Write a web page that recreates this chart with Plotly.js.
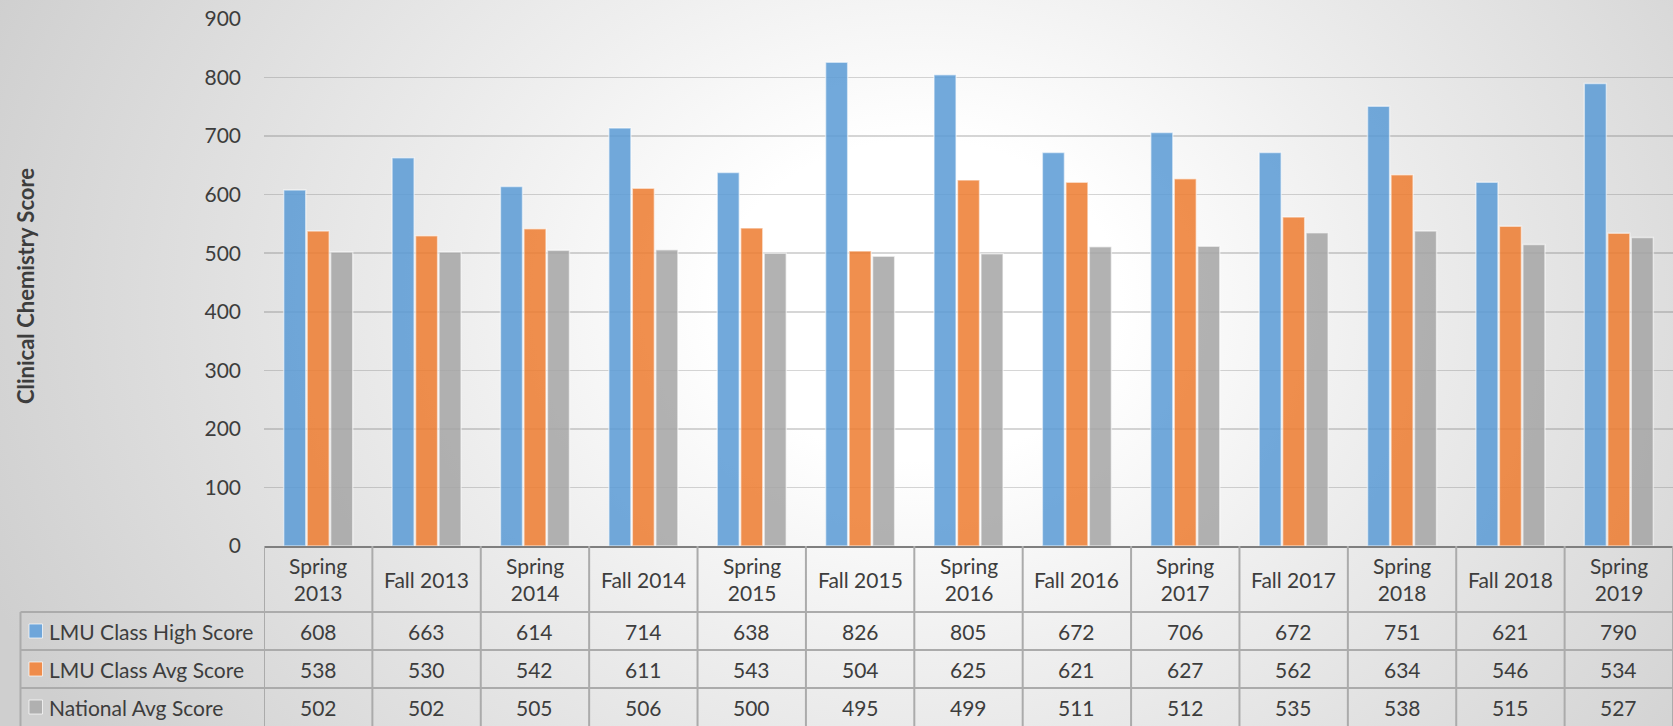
<!DOCTYPE html>
<html>
<head>
<meta charset="utf-8">
<script src="https://cdn.plot.ly/plotly-3.0.1.min.js"></script>
<style>
  html, body { margin: 0; padding: 0; }
  body { width: 1673px; height: 726px; overflow: hidden;
    background: radial-gradient(ellipse 1000px 800px at 920px 300px, #ffffff 0%, #ffffff 20%, #efefef 45%, #cfcfcf 100%); }
  #chart { width: 1673px; height: 726px; }
</style>
</head>
<body>
<div id="chart"></div>
<script>
// ---- data ----
const categories = ["Spring 2013","Fall 2013","Spring 2014","Fall 2014","Spring 2015","Fall 2015","Spring 2016","Fall 2016","Spring 2017","Fall 2017","Spring 2018","Fall 2018","Spring 2019"];
const headerLabels = ["Spring<br>2013","Fall 2013","Spring<br>2014","Fall 2014","Spring<br>2015","Fall 2015","Spring<br>2016","Fall 2016","Spring<br>2017","Fall 2017","Spring<br>2018","Fall 2018","Spring<br>2019"];
const seriesNames = ["LMU Class High Score","LMU Class Avg Score","National Avg Score"];
const highScore   = [608,663,614,714,638,826,805,672,706,672,751,621,790];
const classAvg    = [538,530,542,611,543,504,625,621,627,562,634,546,534];
const nationalAvg = [502,502,505,506,500,495,499,511,512,535,538,515,527];
const yTickVals = [0,100,200,300,400,500,600,700,800,900];
const yTitle = "Clinical Chemistry Score";

// ---- styling / geometry ----
const seriesValues = [highScore, classAvg, nationalAvg];
const colors = ["rgba(91,155,213,0.86)","rgba(237,125,49,0.86)","rgba(165,165,165,0.86)"];
const keyColors = ["#6fa6da","#ef8c4b","#b0b0b0"];
const W = 1673, H = 726;
const L = 264, R = 0, T = 19, B = 180;
const plotW = W - L - R, plotH = H - T - B;
const plotBottom = H - B;
const yp = px => (plotBottom - px) / plotH;   // pixel y -> paper y
const xp = px => (px - L) / plotW;            // pixel x -> paper x
const textColor = "#3d3d3d";
const fontFam = "Lato, 'Open Sans', sans-serif";
const fs = 21;
const borderColor = "#ababab";

const traces = seriesValues.map((vals, k) => ({
  type: "bar",
  name: seriesNames[k],
  x: categories,
  y: vals,
  marker: { color: colors[k], line: { color: "rgba(255,255,255,0.55)", width: 1.5 } },
  hoverinfo: "x+y+name"
}));

// table rows geometry (pixels)
const headerTop = plotBottom, headerBot = 612;
const rowBounds = [612, 650, 688, 726];
const rowCenters = [631, 669, 707];

const annotations = [];
// header labels
categories.forEach((c, i) => {
  annotations.push({ xref: "x", yref: "paper", x: i, y: yp((headerTop + headerBot) / 2),
    text: headerLabels[i], showarrow: false, xanchor: "center", yanchor: "middle",
    font: { family: fontFam, size: fs, color: textColor } });
});
// values
seriesValues.forEach((vals, k) => {
  vals.forEach((v, i) => {
    annotations.push({ xref: "x", yref: "paper", x: i, y: yp(rowCenters[k]),
      text: String(v), showarrow: false, xanchor: "center", yanchor: "middle",
      font: { family: fontFam, size: fs, color: textColor } });
  });
  annotations.push({ xref: "paper", yref: "paper", x: xp(47), y: yp(rowCenters[k]),
    text: seriesNames[k], showarrow: false, xanchor: "left", yanchor: "middle",
    font: { family: fontFam, size: fs, color: textColor } });
});
// y title
annotations.push({ xref: "paper", yref: "paper", x: xp(25), y: yp(286), textangle: -90,
  text: "<b>" + yTitle + "</b>", showarrow: false, xanchor: "center", yanchor: "middle",
  font: { family: fontFam, size: 22, color: textColor } });

const shapes = [];
// vertical borders between categories
for (let i = 0; i <= categories.length; i++) {
  shapes.push({ type: "line", xref: "x", yref: "paper", x0: i - 0.5, x1: i - 0.5,
    y0: yp(headerTop), y1: yp(H + 20), line: { color: borderColor, width: 2 } });
}
// legend column left border
shapes.push({ type: "line", xref: "paper", yref: "paper", x0: xp(20.5), x1: xp(20.5),
  y0: yp(headerBot), y1: yp(H + 20), line: { color: borderColor, width: 2 } });
// horizontal row borders
rowBounds.slice(0, 3).forEach(yb => {
  shapes.push({ type: "line", xref: "paper", yref: "paper", x0: xp(20.5), x1: 1.01,
    y0: yp(yb), y1: yp(yb), line: { color: borderColor, width: 2 } });
});
// legend keys
rowCenters.forEach((yc, k) => {
  shapes.push({ type: "rect", xref: "paper", yref: "paper", x0: xp(29), x1: xp(42.5),
    y0: yp(yc + 7), y1: yp(yc - 7), fillcolor: keyColors[k],
    line: { color: "rgba(255,255,255,0.7)", width: 1 } });
});

const layout = {
  width: W, height: H,
  margin: { l: L, r: R, t: T, b: B, pad: 0 },
  paper_bgcolor: "rgba(0,0,0,0)",
  plot_bgcolor: "rgba(0,0,0,0)",
  barmode: "group",
  bargap: 0.35,
  bargroupgap: 0.06,
  showlegend: false,
  xaxis: { type: "category", range: [-0.5, categories.length - 0.5], showticklabels: false,
    ticks: "", showgrid: false, zeroline: false, showline: true, linecolor: "#7f7f7f", linewidth: 2,
    fixedrange: true },
  yaxis: { range: [0, 900], tickvals: yTickVals, ticks: "", showline: false, zeroline: false,
    showgrid: true, gridcolor: "rgba(90,90,90,0.25)", gridwidth: 1.5,
    ticklabelstandoff: 22,
    tickfont: { family: fontFam, size: fs, color: textColor }, fixedrange: true },
  annotations: annotations,
  shapes: shapes,
  font: { family: fontFam, color: textColor }
};

Plotly.newPlot("chart", traces, layout, { displayModeBar: false, staticPlot: true });
</script>
</body>
</html>
